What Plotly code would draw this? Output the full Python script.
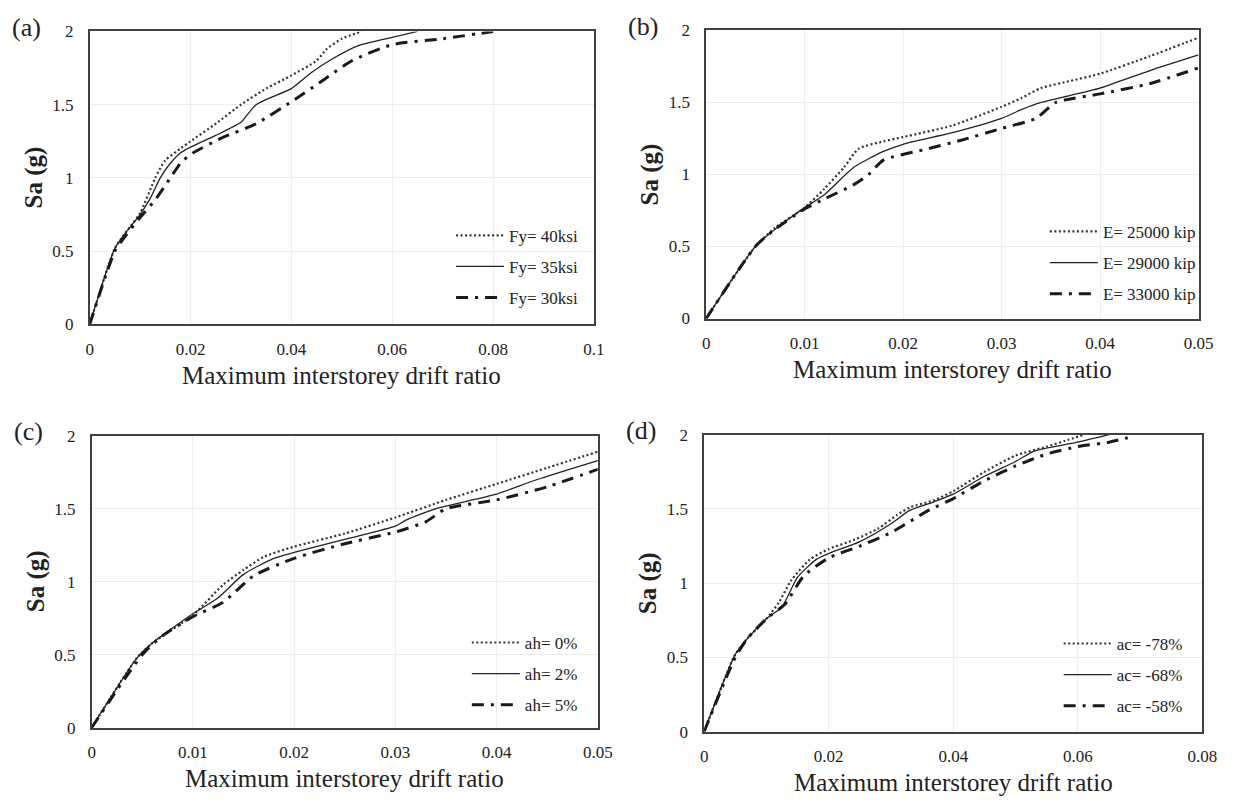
import plotly.graph_objects as go

W, H = 1246, 807

# ---------------- data ----------------
# Panel (a): yield strength
xa_40 = [0, 0.005, 0.007, 0.01, 0.013, 0.015, 0.018, 0.02, 0.025, 0.03, 0.035, 0.04, 0.045, 0.047, 0.05, 0.054]
ya_40 = [0, 0.52, 0.62, 0.76, 1.0, 1.12, 1.2, 1.25, 1.37, 1.5, 1.61, 1.7, 1.8, 1.88, 1.95, 2.0]
xa_35 = [0, 0.005, 0.007, 0.01, 0.012, 0.014, 0.016, 0.018, 0.02, 0.025, 0.03, 0.031, 0.033, 0.036, 0.04, 0.044, 0.048, 0.053, 0.06, 0.065]
ya_35 = [0, 0.52, 0.62, 0.75, 0.86, 1.0, 1.1, 1.17, 1.21, 1.29, 1.38, 1.42, 1.5, 1.55, 1.61, 1.72, 1.81, 1.9, 1.96, 2.0]
xa_30 = [0, 0.005, 0.007, 0.01, 0.013, 0.016, 0.018, 0.02, 0.026, 0.033, 0.04, 0.046, 0.052, 0.06, 0.07, 0.08]
ya_30 = [0, 0.5, 0.6, 0.73, 0.85, 1.0, 1.1, 1.16, 1.27, 1.37, 1.52, 1.66, 1.8, 1.91, 1.95, 2.0]
names_a = ["Fy= 40ksi", "Fy= 35ksi", "Fy= 30ksi"]

# Panel (b): elastic modulus
xb_25 = [0, 0.005, 0.007, 0.01, 0.012, 0.014, 0.0155, 0.018, 0.02, 0.025, 0.03, 0.032, 0.034, 0.037, 0.04, 0.045, 0.05]
yb_25 = [0, 0.5, 0.63, 0.77, 0.9, 1.05, 1.18, 1.23, 1.26, 1.34, 1.47, 1.53, 1.6, 1.65, 1.7, 1.82, 1.95]
xb_29 = [0, 0.005, 0.007, 0.01, 0.012, 0.015, 0.018, 0.02, 0.025, 0.03, 0.032, 0.034, 0.037, 0.04, 0.045, 0.05]
yb_29 = [0, 0.5, 0.62, 0.77, 0.86, 1.05, 1.16, 1.21, 1.29, 1.39, 1.45, 1.5, 1.55, 1.6, 1.72, 1.83]
xb_33 = [0, 0.005, 0.007, 0.01, 0.012, 0.015, 0.0165, 0.018, 0.022, 0.026, 0.03, 0.0335, 0.0355, 0.04, 0.045, 0.05]
yb_33 = [0, 0.5, 0.62, 0.76, 0.83, 0.93, 1.0, 1.1, 1.17, 1.24, 1.32, 1.39, 1.5, 1.56, 1.63, 1.74]
names_b = ["E= 25000 kip", "E= 29000 kip", "E= 33000 kip"]

# Panel (c): hardening ratio
xc_0 = [0, 0.0045, 0.006, 0.01, 0.013, 0.015, 0.017, 0.02, 0.025, 0.03, 0.035, 0.04, 0.045, 0.05]
yc_0 = [0, 0.48, 0.58, 0.77, 0.98, 1.08, 1.17, 1.24, 1.33, 1.44, 1.56, 1.67, 1.78, 1.89]
xc_2 = [0, 0.0045, 0.006, 0.01, 0.0125, 0.015, 0.018, 0.02, 0.025, 0.03, 0.031, 0.034, 0.037, 0.04, 0.044, 0.05]
yc_2 = [0, 0.48, 0.58, 0.78, 0.89, 1.05, 1.16, 1.2, 1.29, 1.38, 1.42, 1.5, 1.55, 1.6, 1.7, 1.83]
xc_5 = [0, 0.005, 0.007, 0.01, 0.013, 0.016, 0.02, 0.025, 0.03, 0.033, 0.035, 0.04, 0.045, 0.05]
yc_5 = [0, 0.5, 0.63, 0.76, 0.86, 1.04, 1.16, 1.26, 1.34, 1.41, 1.5, 1.56, 1.65, 1.77]
names_c = ["ah= 0%", "ah= 2%", "ah= 5%"]

# Panel (d): capping slope
xd_78 = [0, 0.005, 0.007, 0.01, 0.012, 0.014, 0.017, 0.02, 0.024, 0.028, 0.031, 0.033, 0.037, 0.04, 0.045, 0.05, 0.055, 0.058, 0.061]
yd_78 = [0, 0.52, 0.63, 0.76, 0.87, 1.02, 1.16, 1.23, 1.29, 1.37, 1.46, 1.51, 1.56, 1.62, 1.75, 1.86, 1.92, 1.96, 2.0]
xd_68 = [0, 0.005, 0.007, 0.01, 0.0125, 0.015, 0.018, 0.02, 0.025, 0.03, 0.033, 0.037, 0.04, 0.045, 0.05, 0.053, 0.06, 0.065]
yd_68 = [0, 0.52, 0.63, 0.76, 0.84, 1.04, 1.16, 1.2, 1.28, 1.4, 1.49, 1.55, 1.6, 1.72, 1.82, 1.89, 1.95, 2.0]
xd_58 = [0, 0.005, 0.007, 0.01, 0.013, 0.016, 0.02, 0.025, 0.03, 0.034, 0.036, 0.04, 0.045, 0.05, 0.055, 0.06, 0.065, 0.068]
yd_58 = [0, 0.5, 0.63, 0.76, 0.86, 1.05, 1.17, 1.25, 1.34, 1.44, 1.49, 1.57, 1.69, 1.79, 1.87, 1.92, 1.95, 1.98]
names_d = ["ac= -78%", "ac= -68%", "ac= -58%"]

x_ranges = [0.1, 0.05, 0.05, 0.08]
x_dticks = [0.02, 0.01, 0.01, 0.02]
panel_labels = ["(a)", "(b)", "(c)", "(d)"]
x_title = "Maximum interstorey drift ratio"
y_title = "Sa (g)"

# ---------------- layout geometry (pixels) ----------------
boxes = [(87, 599, 23, 323), (713, 1213, 22, 317), (89, 603, 437, 736), (711, 1217, 436, 740)]
legend_pos = [(454, 264), (1057, 260), (470, 681), (1071, 682)]

FONT = "Liberation Serif"

def px(x):
    return x / W

def py(y):
    return 1 - y / H

styles = [
    dict(color="#333333", width=2.2, dash="2px,2.5px"),
    dict(color="#222222", width=1.3, dash="solid"),
    dict(color="#1a1a1a", width=3.0, dash="12px,7px,3px,7px"),
]

panels = [
    ([xa_40, xa_35, xa_30], [ya_40, ya_35, ya_30], names_a),
    ([xb_25, xb_29, xb_33], [yb_25, yb_29, yb_33], names_b),
    ([xc_0, xc_2, xc_5], [yc_0, yc_2, yc_5], names_c),
    ([xd_78, xd_68, xd_58], [yd_78, yd_68, yd_58], names_d),
]

fig = go.Figure()
annotations = []
layout = dict(
    width=W, height=H,
    margin=dict(l=0, r=0, t=0, b=0),
    paper_bgcolor="white", plot_bgcolor="white",
    font=dict(family=FONT, color="#222222"),
)

for i, (xs, ys, names) in enumerate(panels):
    k = i + 1
    xa = "x" if k == 1 else f"x{k}"
    ya = "y" if k == 1 else f"y{k}"
    leg = "legend" if k == 1 else f"legend{k}"
    for j in range(3):
        fig.add_trace(go.Scatter(
            x=xs[j], y=ys[j], name=names[j], mode="lines",
            line=dict(shape="spline", smoothing=0.6, **styles[j]),
            xaxis=xa, yaxis=ya, legend=leg, legendgroup=f"g{k}{j}",
            showlegend=True,
        ))
    l, r, t, b = boxes[i]
    axis_common = dict(
        showline=True, linecolor="#404040", linewidth=1.5, mirror=True,
        showgrid=True, gridcolor="#ececec", gridwidth=1,
        zeroline=False, ticks="",
        tickfont=dict(family=FONT, size=17, color="#222222"),
    )
    layout["xaxis" if k == 1 else f"xaxis{k}"] = dict(
        domain=[px(l), px(r)], anchor=ya, range=[0, x_ranges[i]],
        tick0=0, dtick=x_dticks[i], ticklabelstandoff=8, **axis_common)
    layout["yaxis" if k == 1 else f"yaxis{k}"] = dict(
        domain=[py(b), py(t)], anchor=xa, range=[0, 2],
        tick0=0, dtick=0.5, ticklabelstandoff=11, **axis_common)
    lx, ly = legend_pos[i]
    layout[leg] = dict(
        x=px(lx), y=py(ly), xanchor="left", yanchor="middle",
        bgcolor="rgba(0,0,0,0)", borderwidth=0,
        font=dict(family=FONT, size=17, color="#222222"),
        traceorder="grouped", tracegroupgap=6, itemwidth=48,
    )
    # axis titles and panel labels
    annotations.append(dict(
        text=x_title, x=px((l + r) / 2), y=py(b + 52), xref="paper", yref="paper",
        xanchor="center", yanchor="middle", showarrow=False,
        font=dict(family=FONT, size=25, color="#222222")))
    annotations.append(dict(
        text=f"<b>{y_title}</b>", x=px(l - 57), y=py((t + b) / 2), xref="paper", yref="paper",
        xanchor="center", yanchor="middle", showarrow=False, textangle=-90,
        font=dict(family=FONT, size=25, color="#222222")))
    annotations.append(dict(
        text=panel_labels[i], x=px(l - 64), y=py(t - 4), xref="paper", yref="paper",
        xanchor="center", yanchor="middle", showarrow=False,
        font=dict(family=FONT, size=26, color="#222222")))

layout["annotations"] = annotations
fig.update_layout(**layout)
fig.write_html("out.html")
